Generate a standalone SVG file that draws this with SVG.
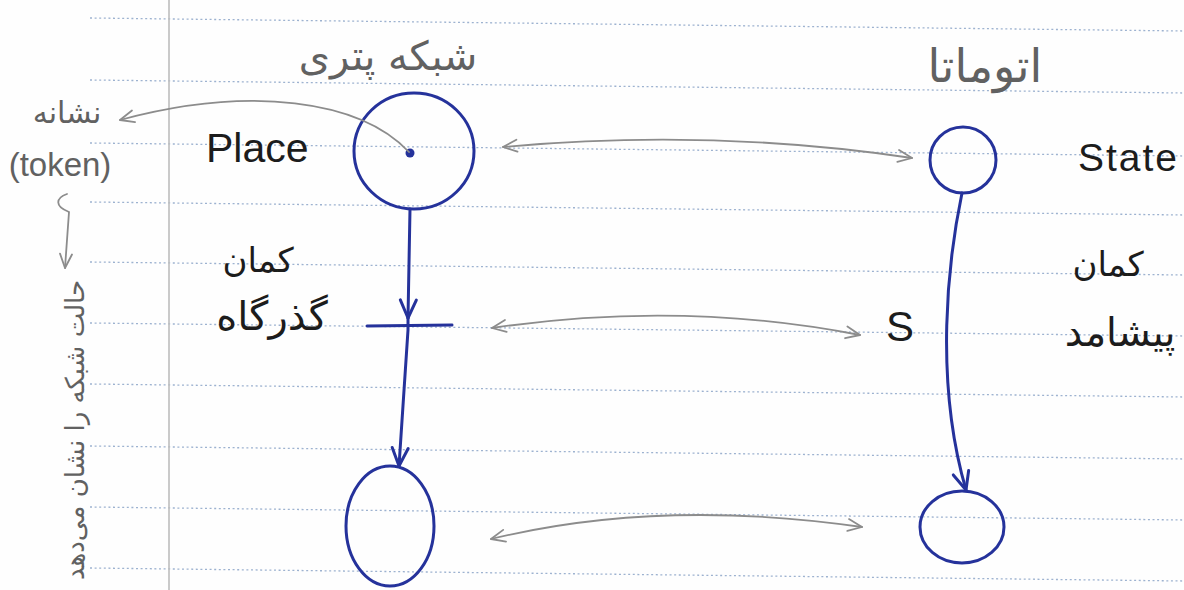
<svg xmlns="http://www.w3.org/2000/svg" width="1184" height="590" viewBox="0 0 1184 590">
  <defs>
    <style>
      .rule { stroke: #9db2d0; stroke-width: 1.3; stroke-dasharray: 2 2.6; fill: none; }
      .margin { stroke: #bdbdbd; stroke-width: 1.6; }
      .ink { stroke: #25329b; stroke-width: 3; fill: none; stroke-linecap: round; stroke-linejoin: round; }
      .pencil { stroke: #8c8c8c; stroke-width: 1.8; fill: none; stroke-linecap: round; }
      .lat { font-family: "Liberation Sans", "DejaVu Sans", sans-serif; fill: #1c1c1c; }
      .fa { font-family: "DejaVu Sans", "Noto Sans", sans-serif; }
      .faBlack { fill: #1c1c1c; }
      .faGray { fill: #616161; }
    </style>
    <!-- open hand-drawn arrowheads -->
    <marker id="headGray" markerUnits="userSpaceOnUse" markerWidth="24" markerHeight="20" viewBox="-16 -10 20 20" refX="0" refY="0" orient="auto-start-reverse">
      <path d="M -14 -6 L 0 0 L -14 6" fill="none" stroke="#8c8c8c" stroke-width="1.8" stroke-linecap="round" stroke-linejoin="round"/>
    </marker>
    <marker id="headBlue" markerUnits="userSpaceOnUse" markerWidth="26" markerHeight="24" viewBox="-20 -12 24 24" refX="0" refY="0" orient="auto">
      <path d="M -18 -8 L 0 0 L -18 8" fill="none" stroke="#25329b" stroke-width="3" stroke-linecap="round" stroke-linejoin="round"/>
    </marker>
  </defs>

  <!-- notebook page -->
  <rect x="0" y="0" width="1184" height="590" fill="#fefefe"/>
  <g id="paper">
    <line class="rule" x1="90" y1="18" x2="1184" y2="31"/>
    <line class="rule" x1="90" y1="80" x2="1184" y2="93"/>
    <line class="rule" x1="90" y1="143" x2="1184" y2="156"/>
    <line class="rule" x1="90" y1="202" x2="1184" y2="215"/>
    <line class="rule" x1="90" y1="262" x2="1184" y2="275"/>
    <line class="rule" x1="90" y1="323" x2="1184" y2="336"/>
    <line class="rule" x1="90" y1="384" x2="1184" y2="397"/>
    <line class="rule" x1="90" y1="446" x2="1184" y2="459"/>
    <line class="rule" x1="90" y1="507" x2="1184" y2="520"/>
    <line class="rule" x1="90" y1="568" x2="1184" y2="581"/>
    <line class="margin" x1="169" y1="0" x2="169" y2="590"/>
  </g>

  <!-- column headings -->
  <text class="fa faGray" x="388" y="70" font-size="40" text-anchor="middle">شبکه پتری</text>
  <text class="fa faGray" x="985" y="82" font-size="46" text-anchor="middle">اتوماتا</text>

  <!-- margin notes -->
  <text class="fa faGray" x="67" y="123" font-size="30" text-anchor="middle">نشانه</text>
  <text class="lat" x="60" y="176" font-size="33" text-anchor="middle" style="fill:#616161">(token)</text>
  <text class="fa faGray" transform="translate(84,430) rotate(-90)" font-size="26" text-anchor="middle">حالت شبکه را نشان می‌دهد</text>

  <!-- Petri net side -->
  <g id="place-top">
    <ellipse class="ink" cx="414" cy="151" rx="60" ry="58"/>
    <circle cx="410" cy="153" r="4.5" fill="#25329b"/>
  </g>
  <g id="transition">
    <line class="ink" x1="367" y1="326" x2="452" y2="325" stroke-width="3.5"/>
  </g>
  <g id="place-bottom">
    <ellipse class="ink" cx="390" cy="526" rx="44" ry="60"/>
  </g>

  <!-- automaton side -->
  <g id="state-top">
    <ellipse class="ink" cx="963" cy="160" rx="33" ry="33"/>
  </g>
  <g id="event-s">
    <text class="lat" x="900" y="341" font-size="42" text-anchor="middle">S</text>
  </g>
  <g id="state-bottom">
    <ellipse class="ink" cx="962" cy="527" rx="42" ry="36"/>
  </g>

  <!-- labels -->
  <text class="lat" x="206" y="162" font-size="41">Place</text>
  <text class="lat" x="1078" y="171" font-size="39" letter-spacing="2">State</text>
  <text class="fa faBlack" x="258" y="272" font-size="34" text-anchor="middle">کمان</text>
  <text class="fa faBlack" x="272" y="330" font-size="40" text-anchor="middle">گذرگاه</text>
  <text class="fa faBlack" x="1108" y="276" font-size="34" text-anchor="middle">کمان</text>
  <text class="fa faBlack" x="1120" y="346" font-size="39" text-anchor="middle">پیشامد</text>

  <!-- connectors -->
  <g id="connectors">
    <!-- arcs -->
    <path class="ink" d="M 410 209 L 408 318" marker-end="url(#headBlue)"/>
    <path class="ink" d="M 408 318 L 408 330 L 399 466" marker-end="url(#headBlue)"/>
    <path class="ink" d="M 962 193 C 948 260, 934 380, 966 490" marker-end="url(#headBlue)"/>
    <!-- correspondences -->
    <path class="pencil" d="M 503 147 Q 710 128 912 158" marker-start="url(#headGray)" marker-end="url(#headGray)"/>
    <path class="pencil" d="M 492 328 Q 680 300 860 335" marker-start="url(#headGray)" marker-end="url(#headGray)"/>
    <path class="pencil" d="M 491 539 Q 660 498 862 527" marker-start="url(#headGray)" marker-end="url(#headGray)"/>
    <!-- token pointer -->
    <path class="pencil" d="M 409 152 C 360 100, 250 85, 120 120" stroke-width="1.4" marker-end="url(#headGray)"/>
    <path class="pencil" d="M 67 194 C 56 198, 54 206, 69 212 L 65 268" stroke-width="1.6" marker-end="url(#headGray)"/>
  </g>
</svg>
